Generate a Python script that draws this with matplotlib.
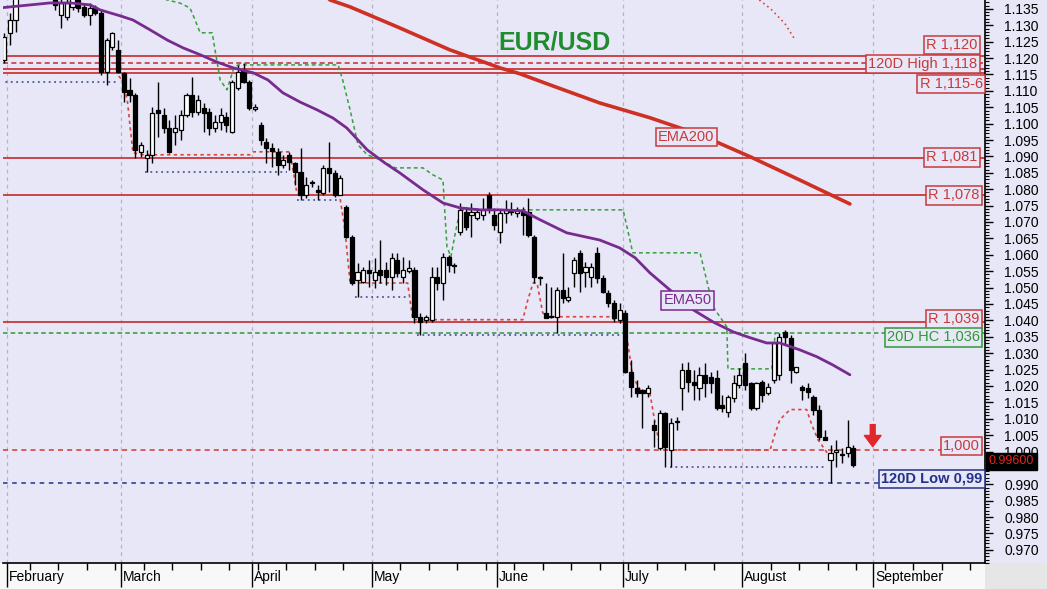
import numpy as np
import pandas as pd
import matplotlib
matplotlib.use("Agg")
import matplotlib.pyplot as plt
import matplotlib.transforms as mtransforms
from matplotlib.patches import Rectangle
from matplotlib.ticker import MultipleLocator, FixedLocator, NullFormatter, FuncFormatter

plt.rcParams["font.family"] = ["Liberation Sans", "DejaVu Sans"]

# EUR/USD daily candles, 31 Jan .. 26 Aug 2022
opens = [1.1194, 1.1277, 1.1316, 1.1425, 1.1445, 1.1455, 1.1440, 1.1415, 1.1425, 1.1420,
         1.1332, 1.1326, 1.1356, 1.1377, 1.1356, 1.1332, 1.1356, 1.1338, 1.1158, 1.1234,
         1.1225, 1.1155, 1.1103, 1.1088, 1.0914, 1.0896, 1.0905, 1.1042, 1.1027, 1.0987,
         1.0975, 1.0981, 1.1027, 1.1088, 1.1036, 1.1048, 1.1036, 1.0987, 1.1005, 1.1021,
         1.0975, 1.1109, 1.1164, 1.1127, 1.1045, 1.0996, 1.0944, 1.0926, 1.0914, 1.0874,
         1.0905, 1.0880, 1.0853, 1.0783, 1.0822, 1.0798, 1.0789, 1.0865, 1.0850, 1.0783,
         1.0746, 1.0655, 1.0524, 1.0517, 1.0554, 1.0524, 1.0554, 1.0554, 1.0533, 1.0584,
         1.0533, 1.0551, 1.0554, 1.0411, 1.0402, 1.0402, 1.0533, 1.0514, 1.0594, 1.0569,
         1.0670, 1.0731, 1.0722, 1.0713, 1.0722, 1.0783, 1.0722, 1.0670, 1.0728, 1.0737,
         1.0728, 1.0731, 1.0731, 1.0655, 1.0533, 1.0423, 1.0414, 1.0411, 1.0493, 1.0463,
         1.0545, 1.0606, 1.0548, 1.0533, 1.0606, 1.0530, 1.0484, 1.0453, 1.0402, 1.0423,
         1.0243, 1.0194, 1.0188, 1.0179, 1.0082, 1.0011, 1.0118, 1.0005, 1.0091, 1.0194,
         1.0249, 1.0212, 1.0194, 1.0234, 1.0228, 1.0225, 1.0143, 1.0121, 1.0164, 1.0203,
         1.0270, 1.0209, 1.0134, 1.0212, 1.0179, 1.0219, 1.0234, 1.0365, 1.0347, 1.0243,
         1.0197, 1.0194, 1.0167, 1.0128, 1.0045, 0.9975, 0.9999, 0.9990, 0.9996, 1.0011]
highs = [1.1277, 1.1338, 1.1440, 1.1483, 1.1480, 1.1470, 1.1445, 1.1450, 1.1495, 1.1430,
         1.1385, 1.1390, 1.1400, 1.1390, 1.1368, 1.1368, 1.1362, 1.1347, 1.1262, 1.1280,
         1.1255, 1.1158, 1.1140, 1.1094, 1.0944, 1.0920, 1.1051, 1.1127, 1.1048, 1.1012,
         1.1027, 1.1042, 1.1094, 1.1143, 1.1088, 1.1063, 1.1048, 1.1027, 1.1048, 1.1036,
         1.1133, 1.1179, 1.1185, 1.1133, 1.1060, 1.1005, 1.0957, 1.0941, 1.0926, 1.0905,
         1.0914, 1.0883, 1.0926, 1.0838, 1.0828, 1.0813, 1.0874, 1.0944, 1.0859, 1.0844,
         1.0752, 1.0661, 1.0575, 1.0563, 1.0584, 1.0591, 1.0645, 1.0578, 1.0606, 1.0606,
         1.0594, 1.0584, 1.0563, 1.0423, 1.0417, 1.0563, 1.0563, 1.0606, 1.0600, 1.0575,
         1.0758, 1.0746, 1.0758, 1.0743, 1.0774, 1.0792, 1.0743, 1.0737, 1.0768, 1.0762,
         1.0746, 1.0746, 1.0774, 1.0661, 1.0536, 1.0514, 1.0502, 1.0502, 1.0606, 1.0502,
         1.0594, 1.0615, 1.0578, 1.0575, 1.0624, 1.0539, 1.0493, 1.0463, 1.0453, 1.0432,
         1.0280, 1.0219, 1.0191, 1.0203, 1.0097, 1.0128, 1.0121, 1.0103, 1.0106, 1.0270,
         1.0273, 1.0249, 1.0258, 1.0270, 1.0243, 1.0249, 1.0173, 1.0173, 1.0234, 1.0255,
         1.0301, 1.0212, 1.0212, 1.0219, 1.0209, 1.0331, 1.0362, 1.0371, 1.0356, 1.0258,
         1.0203, 1.0209, 1.0173, 1.0143, 1.0067, 1.0021, 1.0036, 1.0011, 1.0097, 1.0021]
lows = [1.1185, 1.1240, 1.1280, 1.1395, 1.1410, 1.1400, 1.1392, 1.1395, 1.1385, 1.1347,
        1.1292, 1.1316, 1.1347, 1.1341, 1.1326, 1.1301, 1.1332, 1.1149, 1.1118, 1.1225,
        1.1155, 1.1066, 1.1066, 1.0896, 1.0899, 1.0853, 1.0880, 1.0960, 1.0972, 1.0911,
        1.0935, 1.0950, 1.1021, 1.1021, 1.1027, 1.0975, 1.0966, 1.0975, 1.0981, 1.0975,
        1.0972, 1.1103, 1.1124, 1.1042, 1.1039, 1.0935, 1.0880, 1.0868, 1.0844, 1.0865,
        1.0859, 1.0813, 1.0768, 1.0774, 1.0807, 1.0768, 1.0783, 1.0792, 1.0777, 1.0783,
        1.0652, 1.0508, 1.0472, 1.0514, 1.0502, 1.0499, 1.0514, 1.0508, 1.0493, 1.0533,
        1.0514, 1.0545, 1.0392, 1.0356, 1.0392, 1.0395, 1.0493, 1.0463, 1.0548, 1.0545,
        1.0661, 1.0676, 1.0655, 1.0707, 1.0707, 1.0728, 1.0676, 1.0636, 1.0697, 1.0722,
        1.0716, 1.0661, 1.0655, 1.0514, 1.0508, 1.0408, 1.0408, 1.0362, 1.0453, 1.0456,
        1.0502, 1.0487, 1.0502, 1.0502, 1.0514, 1.0484, 1.0441, 1.0395, 1.0392, 1.0240,
        1.0167, 1.0167, 1.0073, 1.0167, 1.0014, 1.0005, 0.9953, 0.9953, 1.0067, 1.0128,
        1.0182, 1.0158, 1.0158, 1.0167, 1.0179, 1.0128, 1.0121, 1.0106, 1.0152, 1.0194,
        1.0188, 1.0128, 1.0128, 1.0152, 1.0173, 1.0209, 1.0219, 1.0325, 1.0209, 1.0240,
        1.0158, 1.0164, 1.0112, 1.0036, 1.0036, 0.9904, 0.9953, 0.9965, 0.9984, 0.9953]
closes = [1.1265, 1.1316, 1.1425, 1.1445, 1.1455, 1.1440, 1.1415, 1.1425, 1.1420, 1.1362,
          1.1368, 1.1368, 1.1385, 1.1353, 1.1332, 1.1353, 1.1338, 1.1158, 1.1255, 1.1277,
          1.1158, 1.1097, 1.1088, 1.0920, 1.0935, 1.0905, 1.1033, 1.1033, 1.0987, 1.0914,
          1.0987, 1.1027, 1.1088, 1.1036, 1.1073, 1.1033, 1.0987, 1.1005, 1.1027, 1.0996,
          1.1127, 1.1158, 1.1127, 1.1048, 1.1051, 1.0950, 1.0926, 1.0917, 1.0874, 1.0890,
          1.0883, 1.0853, 1.0783, 1.0813, 1.0819, 1.0792, 1.0865, 1.0850, 1.0783, 1.0835,
          1.0655, 1.0514, 1.0548, 1.0554, 1.0545, 1.0548, 1.0539, 1.0533, 1.0591, 1.0545,
          1.0554, 1.0560, 1.0411, 1.0395, 1.0411, 1.0533, 1.0514, 1.0594, 1.0569, 1.0566,
          1.0737, 1.0685, 1.0731, 1.0731, 1.0737, 1.0743, 1.0691, 1.0728, 1.0737, 1.0731,
          1.0737, 1.0722, 1.0661, 1.0533, 1.0530, 1.0408, 1.0411, 1.0493, 1.0469, 1.0472,
          1.0584, 1.0545, 1.0563, 1.0563, 1.0530, 1.0487, 1.0453, 1.0408, 1.0432, 1.0243,
          1.0197, 1.0179, 1.0179, 1.0194, 1.0067, 1.0118, 1.0014, 1.0088, 1.0091, 1.0249,
          1.0212, 1.0203, 1.0234, 1.0209, 1.0209, 1.0134, 1.0134, 1.0167, 1.0209, 1.0234,
          1.0203, 1.0134, 1.0209, 1.0173, 1.0197, 1.0331, 1.0350, 1.0350, 1.0249, 1.0258,
          1.0188, 1.0182, 1.0128, 1.0045, 1.0036, 0.9996, 1.0005, 0.9990, 1.0014, 0.9960]

# overlays, x given in trading days from 1 Feb 2022
ema50_x = [-1.7, 1.8, 5.3, 7.0, 10.6, 14.1, 15.8, 19.3, 21.6, 24.6, 27.6, 30.4, 33.4, 36.3,
           39.2, 42.7, 45.3, 47.9, 50.9, 53.9, 56.7, 59.1, 62.7, 65.8, 68.4, 72.5, 76.0,
           79.0, 82.5, 86.0, 90.0, 93.0, 97.7, 103.5, 107.0, 109.7, 112.3, 115.8, 119.9,
           123.4, 126.9, 129.9, 132.8, 135.1, 138.6, 141.6, 144.4, 147.4]
ema50_y = [1.1353, 1.1359, 1.1365, 1.1368, 1.1368, 1.1362, 1.1347, 1.1329, 1.1316, 1.1286,
           1.1255, 1.1231, 1.1210, 1.1188, 1.1170, 1.1155, 1.1133, 1.1094, 1.1066, 1.1042,
           1.1017, 1.0987, 1.0920, 1.0880, 1.0850, 1.0798, 1.0758, 1.0743, 1.0737, 1.0737,
           1.0734, 1.0707, 1.0667, 1.0645, 1.0621, 1.0591, 1.0545, 1.0493, 1.0432, 1.0395,
           1.0365, 1.0347, 1.0331, 1.0331, 1.0310, 1.0289, 1.0264, 1.0234]
ema200_x = [54.0, 56.2, 59.7, 68.4, 77.2, 86.0, 89.5, 94.8, 103.5, 112.3, 121.1, 129.9, 138.6, 147.4]
ema200_y = [1.1410, 1.1377, 1.1356, 1.1292, 1.1225, 1.1170, 1.1152, 1.1118, 1.1063, 1.1018,
            1.0966, 1.0899, 1.0828, 1.0755]

low_close_x = [-1.7, 18.6, 19.7, 20.6, 21.6, 23.4, 42.1, 42.7, 49.1, 49.7, 50.4, 57.6, 57.9,
               58.8, 59.7, 69.8, 70.7, 90.0, 90.9, 91.8, 92.5, 93.5, 94.2, 105.3, 106.7,
               107.9, 109.3, 110.6, 112.3, 113.2, 114.1, 114.9, 133.4, 134.2, 135.1, 136.9,
               139.8, 140.7, 141.8, 143.4]
low_close_y = [1.1155, 1.1155, 1.1133, 1.1073, 1.0911, 1.0905, 1.0905, 1.0914, 1.0914, 1.0859,
               1.0783, 1.0783, 1.0777, 1.0676, 1.0514, 1.0514, 1.0402, 1.0402, 1.0463, 1.0514,
               1.0514, 1.0423, 1.0411, 1.0411, 1.0395, 1.0392, 1.0228, 1.0188, 1.0179, 1.0088,
               1.0014, 1.0005, 1.0005, 1.0051, 1.0097, 1.0128, 1.0128, 1.0082, 1.0036, 0.9996]

high_close_x = [25.0, 27.6, 29.8, 31.6, 32.5, 33.4, 35.5, 36.0, 36.9, 38.1, 39.2, 40.0, 57.6,
                58.4, 59.7, 61.1, 62.7, 64.9, 67.6, 72.5, 74.2, 76.0, 76.3, 76.7, 77.4, 78.1,
                79.0, 107.6, 108.4, 109.3, 121.1, 123.4, 125.8, 126.0, 133.7, 134.3]
high_close_y = [1.1400, 1.1377, 1.1368, 1.1353, 1.1316, 1.1277, 1.1277, 1.1225, 1.1133, 1.1103,
                1.1164, 1.1179, 1.1179, 1.1133, 1.1042, 1.0935, 1.0905, 1.0890, 1.0865, 1.0865,
                1.0844, 1.0828, 1.0737, 1.0624, 1.0594, 1.0661, 1.0737, 1.0737, 1.0676, 1.0606,
                1.0606, 1.0441, 1.0380, 1.0252, 1.0252, 1.0362]

low20_start = [-1.7, 23.7, 50.4, 60.6, 71.4, 115.8]
low20_end = [19.0, 48.6, 57.6, 69.8, 107.0, 143.0]
low20_level = [1.1127, 1.0853, 1.0768, 1.0472, 1.0356, 0.9953]

top_dots_x = [131.5, 133.5, 136.0, 137.8]
top_dots_y = [1.1377, 1.1350, 1.1305, 1.1255]

# horizontal levels and their tags
res_levels = [1.1205, 1.1166, 1.1154, 1.0896, 1.0783, 1.0395]
high120 = 1.1186
hc20 = 1.0362
parity = 1.0005
low120 = 0.9904
last_close = 0.9960

months = ["February", "March", "April", "May", "June", "July", "August", "September"]

BG = "#e7e7f7"
RED = "#c9393b"
GREEN = "#2f9a34"
NAVY = "#23318a"

fig = plt.figure(figsize=(10.47, 5.89), dpi=100, facecolor=BG)
ax = fig.add_axes([3 / 1047, 26 / 589, 982 / 1047, 563 / 589])
ax.set_facecolor(BG)
fig.patches.append(Rectangle((0, 0), 985 / 1047, 26 / 589, transform=fig.transFigure,
                             fc="#f8f8f8", ec="none", zorder=-1))
fig.patches.append(Rectangle((985 / 1047, 0), 62 / 1047, 26 / 589, transform=fig.transFigure,
                             fc="#e6e6e6", ec="none", zorder=-1))

# trading-day positions
days = pd.bdate_range("2022-02-01", "2022-09-30")
month_pos = [i - 0.5 for i in range(len(days)) if i == 0 or days[i].month != days[i - 1].month]
week_pos = [i - 0.5 for i in range(len(days)) if days[i].weekday() == 0]

for mp in month_pos:
    ax.axvline(mp, color="#b4b4c4", lw=0.9, ls=(0, (3, 3)), zorder=0)

# level lines
for lv in res_levels:
    ax.axhline(lv, color=RED, lw=1.3, zorder=1)
ax.axhline(high120, color=RED, lw=1.2, ls=(0, (3, 2)), zorder=1)
ax.axhline(hc20, color=GREEN, lw=1.1, ls=(0, (3, 2)), zorder=1)
ax.axhline(parity, color="#d8463c", lw=1.2, ls=(0, (3, 2.5)), zorder=1)
ax.axhline(low120, color=NAVY, lw=1.1, ls=(0, (3, 3)), zorder=1)

# channel lines
ax.plot(low_close_x, low_close_y, color="#d8463c", lw=1.2, ls=(0, (2, 2)), zorder=2)
ax.plot(high_close_x, high_close_y, color="#34a23a", lw=1.1, ls=(0, (2.5, 2)), zorder=2)
ax.hlines(low20_level, low20_start, low20_end, color="#4a5a9e", lw=1.3, ls=(0, (1, 2)), zorder=2)
ax.plot(top_dots_x, top_dots_y, color="#d8463c", lw=1.2, ls=(0, (1, 2)), zorder=2)

# candles
o = np.array(opens)
h = np.array(highs)
l = np.array(lows)
c = np.array(closes)
x = np.arange(len(o)) - 1
up = c >= o
bottom = np.minimum(o, c)
height = np.maximum(np.abs(c - o), 0.0003)
ax.vlines(x, l, h, color="black", lw=1.0, zorder=3)
ax.bar(x[up], height[up], bottom=bottom[up], width=0.72, color="white",
       edgecolor="black", lw=0.9, zorder=4)
ax.bar(x[~up], height[~up], bottom=bottom[~up], width=0.72, color="black",
       edgecolor="black", lw=0.9, zorder=4)

# moving averages
ax.plot(ema200_x, ema200_y, color="#cf3024", lw=2.6, zorder=5, solid_capstyle="round")
ax.plot(ema50_x, ema50_y, color="#782b8e", lw=2.0, zorder=5, solid_capstyle="round")

ax.set_xlim(-1.2, 171.1)
ax.set_ylim(0.9660, 1.1377)


def tag(xpos, ypos, text, color, ha="right", weight="normal"):
    ax.text(xpos, ypos, text, color=color, fontsize=10.5, ha=ha, va="center", zorder=8,
            fontweight=weight,
            bbox=dict(boxstyle="square,pad=0.15", fc=BG, ec=color, lw=1.1))


tag(169.8, 1.1239, "R 1,120", RED)
tag(169.8, 1.1181, "120D High 1,118", RED)
tag(170.7, 1.1120, "R 1,115-6", RED)
tag(118.7, 1.0960, "EMA200", RED, ha="center")
tag(169.8, 1.0897, "R 1,081", RED)
tag(170.2, 1.0781, "R 1,078", RED)
tag(118.9, 1.0461, "EMA50", "#7a2b8e", ha="center")
tag(170.2, 1.0403, "R 1,039", RED)
tag(170.2, 1.0348, "20D HC 1,036", GREEN)
tag(170.2, 1.0017, "1,000", RED)
tag(170.7, 0.9917, "120D Low 0,99", NAVY, weight="bold")

ax.text(95.6, 1.1246, "EUR/USD", color="#1f8c2e", fontsize=18, fontweight="bold",
        ha="center", va="center", zorder=8)

ax.annotate("", xy=(151.4, 1.0015), xytext=(151.4, 1.0082), zorder=8,
            arrowprops=dict(facecolor="#e3262b", edgecolor="#e3262b", width=3.5,
                            headwidth=12, headlength=8))

# last price box on the axis (covers the 0.995 label, as in the source chart)
trans = mtransforms.blended_transform_factory(ax.transAxes, ax.transData)
ax.text(1.004, 0.9970, "0.99600", transform=trans, color="#e3261d", fontsize=9,
        ha="left", va="center", clip_on=False, zorder=9,
        bbox=dict(boxstyle="square,pad=0.2", fc="black", ec="black"))

# axes styling
for side in ["top", "left"]:
    ax.spines[side].set_visible(False)
ax.spines["right"].set_color("black")
ax.spines["bottom"].set_color("black")
ax.spines["right"].set_linewidth(1.2)
ax.spines["bottom"].set_linewidth(1.2)


def price_fmt(v, pos):
    if abs(v - 0.995) < 1e-6:
        return ""
    return f"{v:.3f}"


ax.yaxis.tick_right()
ax.yaxis.set_major_locator(MultipleLocator(0.005))
ax.yaxis.set_minor_locator(MultipleLocator(0.001))
ax.yaxis.set_major_formatter(FuncFormatter(price_fmt))
ax.tick_params(axis="y", which="major", length=6, width=1, pad=8, labelsize=10, colors="black")
ax.tick_params(axis="y", which="minor", length=3, width=0.8)

ax.xaxis.set_major_locator(FixedLocator(month_pos))
ax.xaxis.set_minor_locator(FixedLocator([w for w in week_pos if w not in month_pos]))
ax.xaxis.set_major_formatter(NullFormatter())
ax.tick_params(axis="x", which="major", length=17, width=1, direction="out")
ax.tick_params(axis="x", which="minor", length=5, width=1, direction="out")

xtrans = mtransforms.blended_transform_factory(ax.transData, ax.transAxes)
for mp, name in zip(month_pos, months):
    ax.text(mp + 0.35, -0.025, name, transform=xtrans, fontsize=10, ha="left", va="center",
            clip_on=False)

fig.savefig("out.png", dpi=100, facecolor=BG)
